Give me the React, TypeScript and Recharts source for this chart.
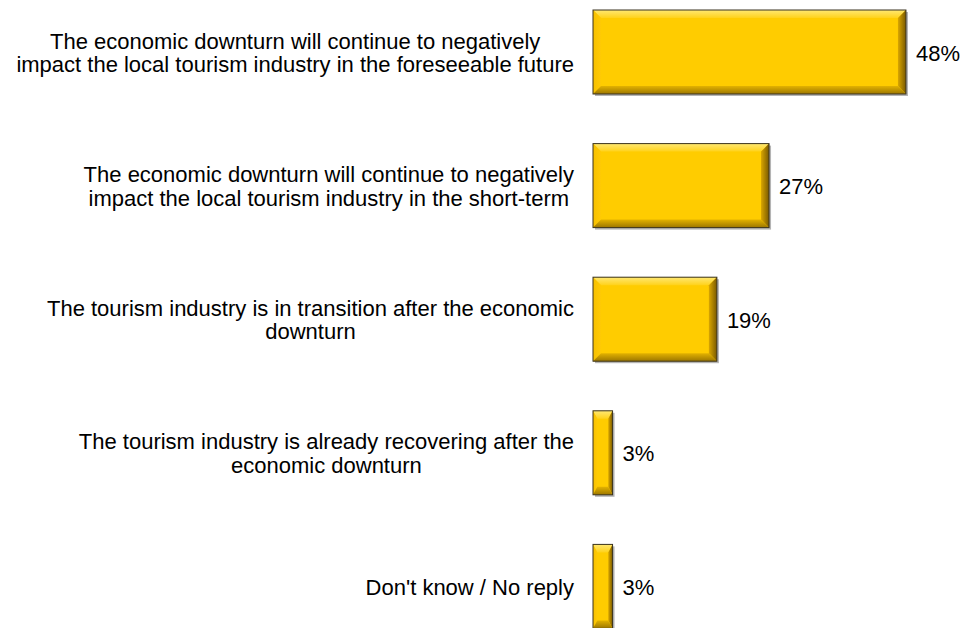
import { Bar, BarChart, LabelList, XAxis, YAxis } from 'recharts';

const categories = [
	['The economic downturn will continue to negatively', 'impact the local tourism industry in the foreseeable future'],
	['The economic downturn will continue to negatively', 'impact the local tourism industry in the short-term'],
	['The tourism industry is in transition after the economic', 'downturn'],
	['The tourism industry is already recovering after the', 'economic downturn'],
	["Don't know / No reply"],
];

const values = [48, 27, 19, 3, 3];

const data = categories.map((lines, i) => ({
	name: lines.join(' '),
	lines,
	value: values[i],
}));

const FONT = '"Liberation Sans", Arial, sans-serif';
const FONT_SIZE = 22;
const LINE_HEIGHT = 23.5;

let canvasCtx: CanvasRenderingContext2D | null = null;
const measure = (text: string) => {
	if (!canvasCtx) {
		canvasCtx = document.createElement('canvas').getContext('2d');
	}
	if (!canvasCtx) return text.length * FONT_SIZE * 0.5;
	canvasCtx.font = `${FONT_SIZE}px ${FONT}`;
	return canvasCtx.measureText(text).width;
};

// label block is right-aligned, its lines are centred within it
const CategoryTick = (props: any) => {
	const { y, payload } = props;
	const lines: string[] = data[payload.index]?.lines ?? [payload.value];
	const maxW = Math.max(...lines.map(measure));
	const cx = 574 - maxW / 2;
	return (
		<g>
			{lines.map((line, i) => (
				<text
					key={i}
					x={cx}
					y={y + 1 + (i - (lines.length - 1) / 2) * LINE_HEIGHT}
					textAnchor='middle'
					dominantBaseline='central'
					fontFamily={FONT}
					fontSize={FONT_SIZE}
					fill='#000'
				>
					{line}
				</text>
			))}
		</g>
	);
};

const BevelBar = (props: any) => {
	const { x, y, width: w, height: h } = props;
	if (!w || !h) return null;
	const bx = Math.min(8, w * 0.22);
	const by = 8;
	return (
		<g>
			<rect x={x + 2} y={y + 2} width={w} height={h} fill='#b4b4b4' />
			<rect x={x} y={y} width={w} height={h} fill='#FFCC00' />
			<polygon
				points={`${x},${y} ${x + w},${y} ${x + w - bx},${y + by} ${x + bx},${y + by}`}
				fill='url(#bevTop)'
			/>
			<polygon
				points={`${x},${y} ${x + bx},${y + by} ${x + bx},${y + h - by} ${x},${y + h}`}
				fill='url(#bevLeft)'
			/>
			<polygon
				points={`${x + w},${y} ${x + w},${y + h} ${x + w - bx},${y + h - by} ${x + w - bx},${y + by}`}
				fill='url(#bevRight)'
			/>
			<polygon
				points={`${x},${y + h} ${x + bx},${y + h - by} ${x + w - bx},${y + h - by} ${x + w},${y + h}`}
				fill='url(#bevBottom)'
			/>
			<rect
				x={x}
				y={y}
				width={w}
				height={h}
				fill='none'
				stroke='#3a3320'
				strokeWidth={1}
			/>
		</g>
	);
};

const ValueLabel = (props: any) => {
	const { x, y, width, height, value } = props;
	return (
		<text
			x={x + width + 10}
			y={y + height / 2 + 1}
			dominantBaseline='central'
			fontFamily={FONT}
			fontSize={FONT_SIZE}
			fill='#000'
		>
			{`${value}%`}
		</text>
	);
};

const App = () => {
	return (
		<div style={{ position: 'absolute', left: 0, top: -15 }}>
			<BarChart
				width={967}
				height={668}
				layout='vertical'
				data={data}
				margin={{ top: 0, right: 48, bottom: 0, left: 0 }}
			>
				<defs>
					<linearGradient id='bevTop' x1='0' y1='0' x2='0' y2='1'>
						<stop offset='0%' stopColor='#FFE873' />
						<stop offset='100%' stopColor='#FFD21A' />
					</linearGradient>
					<linearGradient id='bevLeft' x1='0' y1='0' x2='1' y2='0'>
						<stop offset='0%' stopColor='#F7C000' />
						<stop offset='100%' stopColor='#FFCA05' />
					</linearGradient>
					<linearGradient id='bevRight' x1='0' y1='0' x2='1' y2='0'>
						<stop offset='0%' stopColor='#D9A600' />
						<stop offset='100%' stopColor='#7A5A00' />
					</linearGradient>
					<linearGradient id='bevBottom' x1='0' y1='0' x2='0' y2='1'>
						<stop offset='0%' stopColor='#E3B200' />
						<stop offset='100%' stopColor='#9C7600' />
					</linearGradient>
				</defs>
				<XAxis type='number' domain={[0, 50]} hide />
				<YAxis
					type='category'
					dataKey='name'
					width={593}
					axisLine={false}
					tickLine={false}
					tick={<CategoryTick />}
					interval={0}
				/>
				<Bar
					dataKey='value'
					barSize={84}
					shape={<BevelBar />}
					isAnimationActive={false}
				>
					<LabelList dataKey='value' content={<ValueLabel />} />
				</Bar>
			</BarChart>
		</div>
	);
};

export default App;
